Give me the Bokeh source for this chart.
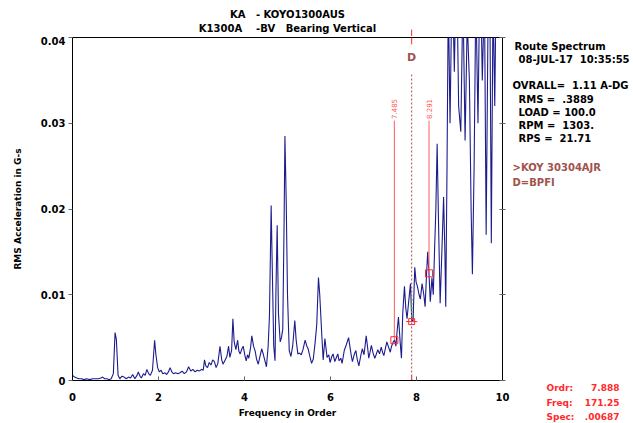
from math import pi
from bokeh.plotting import figure
from bokeh.layouts import column, row
from bokeh.models import Range1d, FixedTicker, Label, LinearAxis
from bokeh.core.properties import value
from bokeh.embed import file_html
from bokeh.resources import INLINE

# ---- spectrum (order, RMS acceleration G-s) ----
orders = [0.00, 0.05, 0.10, 0.15, 0.20, 0.27, 0.33, 0.40, 0.47, 0.53, 0.60, 0.66, 0.70, 0.75, 0.80, 0.85, 0.90, 0.95, 0.99,
          1.02, 1.06, 1.10, 1.15, 1.20, 1.25, 1.30, 1.35, 1.40, 1.45, 1.50, 1.53, 1.57, 1.60, 1.65, 1.69, 1.73, 1.77, 1.81,
          1.86, 1.91, 1.94, 1.98, 2.02, 2.06, 2.10, 2.15, 2.19, 2.23, 2.27, 2.31, 2.35, 2.40, 2.45, 2.50, 2.55, 2.60, 2.65,
          2.70, 2.75, 2.80, 2.85, 2.90, 2.95, 3.00, 3.04, 3.07, 3.10, 3.14, 3.18, 3.22, 3.26, 3.30, 3.34, 3.38, 3.43, 3.47,
          3.50, 3.55, 3.59, 3.63, 3.66, 3.70, 3.73, 3.76, 3.80, 3.84, 3.87, 3.90, 3.94, 3.97, 4.01, 4.04, 4.07, 4.10, 4.14,
          4.17, 4.21, 4.25, 4.28, 4.32, 4.36, 4.40, 4.44, 4.48, 4.51, 4.55, 4.58, 4.62, 4.65, 4.68, 4.71, 4.73, 4.76, 4.79,
          4.83, 4.86, 4.89, 4.92, 4.94, 4.97, 5.00, 5.04, 5.08, 5.12, 5.17, 5.20, 5.24, 5.28, 5.32, 5.36, 5.41, 5.45, 5.48,
          5.52, 5.56, 5.60, 5.64, 5.68, 5.72, 5.75, 5.79, 5.83, 5.87, 5.92, 5.96, 5.99, 6.03, 6.06, 6.10, 6.13, 6.17, 6.20,
          6.24, 6.27, 6.32, 6.37, 6.42, 6.45, 6.48, 6.51, 6.55, 6.59, 6.62, 6.66, 6.70, 6.74, 6.78, 6.83, 6.86, 6.89, 6.92,
          6.95, 6.99, 7.03, 7.06, 7.10, 7.14, 7.18, 7.21, 7.24, 7.28, 7.31, 7.35, 7.39, 7.42, 7.46, 7.49, 7.52, 7.55, 7.58,
          7.62, 7.65, 7.68, 7.72, 7.75, 7.78, 7.82, 7.86, 7.89, 7.92, 7.96, 7.99, 8.02, 8.06, 8.09, 8.13, 8.17, 8.20, 8.23,
          8.26, 8.29, 8.32, 8.36, 8.39, 8.42, 8.45, 8.48, 8.51, 8.55, 8.59, 8.63, 8.66, 8.68, 8.71, 8.74, 8.78, 8.83, 8.88,
          8.93, 8.98, 9.03, 9.08, 9.13, 9.18, 9.23, 9.27, 9.30, 9.34, 9.38, 9.43, 9.48, 9.53, 9.58, 9.62, 9.66, 9.70, 9.74,
          9.78, 9.82, 9.86, 9.92, 9.97, 10.00]
accel = [0.0006, 0.0004, 0.0003, 0.0002, 0.0002, 0.0001, 0.0002, 0.0001, 0.0002, 0.0002, 0.0002, 0.0003, 0.0004, 0.0002,
         0.0002, 0.0001, 0.0002, 0.0008, 0.0056,
         0.0048, 0.0006, 0.0002, 0.0005, 0.0004, 0.0002, 0.0004, 0.0003, 0.0007, 0.0002, 0.0006, 0.0010, 0.0005, 0.0003,
         0.0008, 0.0006, 0.0013, 0.0008, 0.0006,
         0.0012, 0.0047, 0.0030, 0.0015, 0.0010, 0.0012, 0.0008, 0.0009, 0.0007, 0.0010, 0.0015, 0.0010, 0.0008, 0.0009,
         0.0008, 0.0009, 0.0011, 0.0008, 0.0010,
         0.0016, 0.0011, 0.0013, 0.0010, 0.0012, 0.0011, 0.0013, 0.0012, 0.0024, 0.0017, 0.0015, 0.0021, 0.0018, 0.0024,
         0.0022, 0.0015, 0.0020, 0.0040, 0.0024,
         0.0019, 0.0024, 0.0028, 0.0040, 0.0027, 0.0035, 0.0072, 0.0045, 0.0036, 0.0047, 0.0034, 0.0031, 0.0037, 0.0040,
         0.0029, 0.0023, 0.0030, 0.0026, 0.0038,
         0.0052, 0.0040, 0.0034, 0.0025, 0.0019, 0.0028, 0.0037, 0.0030, 0.0022, 0.0016, 0.0040, 0.0075, 0.0204, 0.0120,
         0.0040, 0.0023, 0.0100, 0.0181, 0.0078,
         0.0045, 0.0050, 0.0060, 0.0180, 0.0285, 0.0210, 0.0100, 0.0035, 0.0028, 0.0040, 0.0070, 0.0048, 0.0031, 0.0032,
         0.0030, 0.0036, 0.0047, 0.0040, 0.0037,
         0.0028, 0.0020, 0.0025, 0.0043, 0.0065, 0.0120, 0.0100, 0.0060, 0.0024, 0.0049, 0.0027, 0.0030, 0.0021, 0.0028,
         0.0031, 0.0022, 0.0026, 0.0031, 0.0023,
         0.0026, 0.0020, 0.0035, 0.0042, 0.0050, 0.0040, 0.0030, 0.0022, 0.0030, 0.0035, 0.0025, 0.0017, 0.0028, 0.0037,
         0.0030, 0.0052, 0.0040, 0.0026, 0.0033,
         0.0041, 0.0032, 0.0026, 0.0030, 0.0036, 0.0031, 0.0039, 0.0033, 0.0029, 0.0038, 0.0045, 0.0039, 0.0033, 0.0040,
         0.0045, 0.0047, 0.0040, 0.0058, 0.0074,
         0.0045, 0.0026, 0.0078, 0.0110, 0.0085, 0.0072, 0.0093, 0.0113, 0.0069, 0.0070, 0.0132, 0.0115, 0.0110, 0.0100,
         0.0095, 0.0113, 0.0100, 0.0086, 0.0120,
         0.0150, 0.0125, 0.0092, 0.0120, 0.0100, 0.0152, 0.0200, 0.0276, 0.0190, 0.0090, 0.0150, 0.0214, 0.0150, 0.0086,
         0.0250, 0.0450, 0.0300, 0.0480, 0.0360,
         0.0500, 0.0320, 0.0290, 0.0450, 0.0280, 0.0420, 0.0350, 0.0200, 0.0124, 0.0250, 0.0450, 0.0300, 0.0500, 0.0350,
         0.0450, 0.0170, 0.0400, 0.0500, 0.0160,
         0.0450, 0.0320, 0.0500, 0.0420, 0.0550, 0.0500]

# markers and cursor
marker_orders = [7.485, 8.291]
marker_values = [0.0047, 0.0125]
marker_texts = ["7.485", "8.291"]
cursor_order = 7.888
cursor_freq = 171.25
cursor_spec = 0.00687

x_ticks = [0, 2, 4, 6, 8, 10]
y_ticks = [0, 0.01, 0.02, 0.03, 0.04]

S = "\u00a0"  # non-breaking space keeps the original column spacing
title_lines = ["KA" + S * 3 + "- KOYO1300AUS", "K1300A" + S * 4 + "-BV" + S * 3 + "Bearing Vertical"]
info_lines = ["Route Spectrum", "08-JUL-17" + S * 2 + "10:35:55"]
stat_lines = ["OVRALL=" + S * 2 + "1.11 A-DG", "RMS =" + S * 2 + ".3889", "LOAD = 100.0",
              "RPM =" + S * 2 + "1303.", "RPS =" + S * 2 + "21.71"]
fault_lines = [">KOY 30304AJR", "D=BPFI"]
read_names = ["Ordr:", "Freq:", "Spec:"]
read_vals = [f"{cursor_order:.3f}", f"{cursor_freq:.2f}", f"{cursor_spec:.5f}".lstrip("0")]

FONT = "DejaVu Sans"
BROWN = "#a0524c"
RED = "#ff2a2a"
LRED = "#ff5a5a"
NAVY = "#1c1c8c"

W, H = 633, 423
TOP_H = 36
MAIN_W = 510
MAIN_H = H - TOP_H
SIDE_W = W - MAIN_W
BL, BR = 72, 8   # left / right borders of the plot frame


def blank(width, height, x_range, left=0, right=0):
    f = figure(width=width, height=height, output_backend="svg", toolbar_location=None, title=None,
               x_range=x_range, y_range=Range1d(height, 0),
               x_axis_location=None, y_axis_location=None,
               min_border=0, min_border_left=left, min_border_right=right, min_border_top=0, min_border_bottom=0)
    f.grid.visible = False
    f.outline_line_color = None
    f.background_fill_color = "white"
    f.border_fill_color = "white"
    return f


# ---------------- title strip (same horizontal scale as the plot) ----------------
top = blank(MAIN_W, TOP_H, Range1d(0, 10), left=BL, right=BR)
top.text(x=[5.0, 5.0], y=[14, 28], text=title_lines, text_align="center", text_baseline="middle",
         text_font=value(FONT), text_font_style="bold", text_font_size="10px", text_color="black")
top.segment(x0=[cursor_order], y0=[29], x1=[cursor_order], y1=[TOP_H], line_color=RED, line_width=1)

# ---------------- main spectrum plot ----------------
p = figure(width=MAIN_W, height=MAIN_H, output_backend="svg", toolbar_location=None, title=None,
           x_range=Range1d(0, 10), y_range=Range1d(0, 0.04),
           min_border_left=BL, min_border_right=BR, min_border_top=1, min_border_bottom=43)
p.xgrid.visible = False
p.ygrid.visible = False
p.outline_line_color = "black"
p.outline_line_width = 1
p.background_fill_color = "white"
p.border_fill_color = "white"

p.line(orders, accel, line_color=NAVY, line_width=1.1)

xa = p.xaxis[0]
xa.ticker = FixedTicker(ticks=x_ticks)
xa.axis_label = "Frequency in Order"
xa.major_tick_in = 4
xa.major_tick_out = 0
xa.minor_tick_line_color = None
xa.major_label_standoff = 12
xa.axis_label_standoff = 4
ya = p.yaxis[0]
ya.ticker = FixedTicker(ticks=y_ticks)
ya.axis_label = "RMS Acceleration in G-s"
ya.major_tick_in = 0
ya.major_tick_out = 4
ya.minor_tick_line_color = None
ya.major_label_standoff = 3
ya.axis_label_standoff = 15
ya.major_label_overrides = {0: "0", 0.01: "0.01", 0.02: "0.02", 0.03: "0.03", 0.04: "0.04"}
for ax in (xa, ya):
    ax.axis_line_color = "black"
    ax.major_tick_line_color = "#666666"
    ax.major_label_text_font = FONT
    ax.major_label_text_font_style = "bold"
    ax.major_label_text_font_size = "10px"
    ax.major_label_text_color = "black"
    ax.axis_label_text_font = FONT
    ax.axis_label_text_font_style = "bold"
    ax.axis_label_text_font_size = "9px"
    ax.axis_label_text_color = "black"

ra = LinearAxis(ticker=FixedTicker(ticks=y_ticks), major_tick_in=3, major_tick_out=3,
                minor_tick_line_color=None, major_label_text_color=None, major_label_standoff=0,
                major_label_text_font_size="1px", axis_line_color="black", major_tick_line_color="#666666")
p.add_layout(ra, "right")

# marker lines with boxes and rotated labels
top_y = 0.0303
p.segment(x0=marker_orders, y0=marker_values, x1=marker_orders, y1=[top_y] * 2, line_color=LRED, line_width=1)
p.scatter(marker_orders, marker_values, marker="square", size=7, line_color=RED, fill_color=None, line_width=1)
p.text(x=marker_orders, y=[top_y + 0.0002] * 2, text=marker_texts, angle=pi / 2, text_align="left",
       text_baseline="middle", text_font=value(FONT), text_font_size="7px", text_color=LRED)

# cursor
p.segment(x0=[cursor_order], y0=[0], x1=[cursor_order], y1=[0.0359], line_color=BROWN, line_width=1,
          line_dash="2 2")
p.segment(x0=[cursor_order], y0=[0.0074], x1=[cursor_order], y1=[0.0097], line_color="#40b040", line_width=1.5,
          line_dash="2 2")
p.scatter([cursor_order], [cursor_spec], marker="square", size=6, line_color=RED, fill_color=None, line_width=1)
p.segment(x0=[cursor_order - 0.13], y0=[cursor_spec], x1=[cursor_order + 0.13], y1=[cursor_spec],
          line_color=RED, line_width=1)
p.segment(x0=[cursor_order], y0=[0], x1=[cursor_order], y1=[0.0006], line_color=RED, line_width=1)
p.segment(x0=[cursor_order], y0=[0.0392], x1=[cursor_order], y1=[0.04], line_color=RED, line_width=1)
p.add_layout(Label(x=cursor_order, y=0.03765, text="D", text_align="center", text_baseline="middle",
                   text_font=FONT, text_font_style="bold", text_font_size="11px", text_color=BROWN))

# ---------------- right info panel (full height) ----------------
side = blank(SIDE_W, H, Range1d(0, SIDE_W))
ox = MAIN_W


def panel(texts, xs, ys, color="black", size="10px", align="left"):
    side.text(x=[v - ox for v in xs], y=ys, text=texts, text_align=align,
              text_baseline="middle", text_font=value(FONT), text_font_style="bold",
              text_font_size=size, text_color=color)


panel([info_lines[0]], [514], [46])
panel([info_lines[1]], [518], [59])
panel([stat_lines[0]], [512], [85])
panel(stat_lines[1:], [518] * 4, [99, 112, 125, 138])
panel(fault_lines, [512] * 2, [167, 182], color=BROWN)
panel(read_names, [546] * 3, [387, 402, 416], color=RED, size="9px")
panel(read_vals, [619] * 3, [387, 402, 416], color=RED, size="9px", align="right")

layout = row(column(top, p, spacing=0), side, spacing=0)
open("out.html", "w").write(file_html(layout, INLINE))
